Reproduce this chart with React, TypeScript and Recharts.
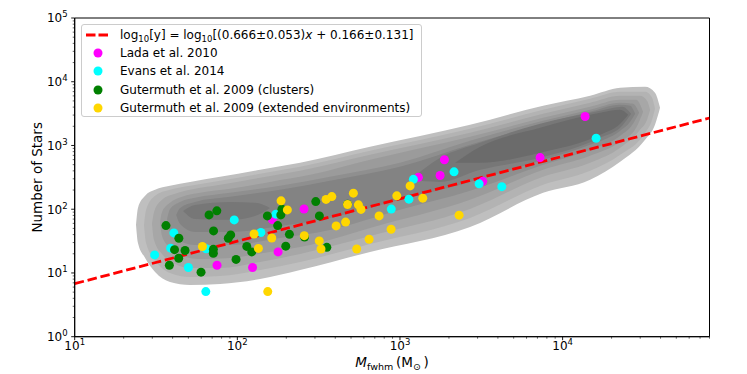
import React from "react";
import {
  ComposedChart,
  Area,
  Scatter,
  Line,
  XAxis,
  YAxis,
  Legend,
  ReferenceArea,
} from "recharts";

const FONT = "'DejaVu Sans', sans-serif";

// [M_fwhm (Msun), number of stars]
const lada2010 = [
  [75, 13.2], [124, 12.2], [164, 69], [178, 21.4], [257, 101], [1298, 316],
  [1765, 338], [1876, 596], [3230, 274], [7270, 645], [13750, 2850],
];
const evans2014 = [
  [31, 19.2], [40.7, 42.5], [38.9, 24.5], [50, 12.2], [64, 5.1], [64.3, 24],
  [95.7, 68], [139.5, 43.2], [172.5, 83.6], [884, 100.5], [1135, 144],
  [1209, 294], [2150, 386], [3066, 250], [4228, 226], [16070, 1296],
];
const gutermuthClusters = [
  [36.4, 55.4], [38.2, 13.2], [41.1, 23.2], [43.7, 35.1], [43.6, 17], [47.7, 22.5],
  [59.8, 10.3], [67, 81.5], [74.8, 94.2], [71.4, 45.7], [71.2, 23.5], [71.2, 20.4],
  [88, 35.1], [91, 39.5], [98.2, 16.3], [114.3, 26.1], [122.6, 21.4], [153, 78.6],
  [185, 81.5], [188, 100], [177, 55.4], [198.5, 26.3], [209, 40.4], [259, 36.5],
  [303.5, 131.8], [319.4, 78.6], [355, 25.2], [476, 120],
];
const gutermuthExtended = [
  [61, 26], [126.7, 40.8], [134.7, 24.3], [153.8, 5.1], [162.8, 35.4], [185.7, 135.2],
  [203, 97.6], [258, 38.5], [319, 31.8], [327, 23.8], [351, 142.7], [381, 158],
  [405, 54.7], [463, 62.8], [476, 118.8], [517, 178.6], [555, 117], [576, 99.4],
  [542, 23.8], [646, 33.8], [744, 78.6], [882, 48.6], [956, 162], [1154, 232],
  [1381, 149], [2309, 80.6],
];

// log10 N = 0.666 log10 M + 0.166, ends of the x range
const fitLine = [
  { x: 10, y: 6.8 },
  { x: 80000, y: 2700 },
];

// KDE contour bands: [log10 M, log10 N lower edge, log10 N upper edge]
const kde1 = [
  [1.377, 1.754, 1.754], [1.389, 1.471, 2.021], [1.433, 1.236, 2.21], [1.494, 1.016, 2.304],
  [1.586, 0.859, 2.367], [1.709, 0.812, 2.429], [1.894, 0.828, 2.508], [2.14, 0.906, 2.618],
  [2.386, 1.047, 2.728], [2.816, 1.33, 2.979], [3.431, 1.723, 3.324], [3.88, 2.257, 3.623],
  [4.169, 2.461, 3.78], [4.354, 2.743, 3.906], [4.507, 3.089, 3.921], [4.568, 3.324, 3.827],
  [4.599, 3.591, 3.591],
];
const kde2 = [
  [1.426, 1.754, 1.754], [1.439, 1.471, 1.99], [1.494, 1.204, 2.21], [1.586, 1.0, 2.304],
  [1.709, 0.938, 2.367], [1.894, 0.953, 2.445], [2.14, 1.047, 2.555], [2.386, 1.173, 2.665],
  [2.816, 1.456, 2.916], [3.431, 1.864, 3.262], [3.88, 2.382, 3.56], [4.169, 2.602, 3.733],
  [4.354, 2.853, 3.843], [4.507, 3.199, 3.843], [4.55, 3.403, 3.749], [4.568, 3.576, 3.576],
];
const kde3 = [
  [1.475, 1.77, 1.77], [1.488, 1.519, 1.958], [1.537, 1.299, 2.147], [1.617, 1.142, 2.241],
  [1.709, 1.079, 2.304], [1.894, 1.079, 2.382], [2.14, 1.173, 2.492], [2.386, 1.299, 2.602],
  [2.816, 1.581, 2.853], [3.431, 2.005, 3.199], [3.88, 2.508, 3.497], [4.169, 2.728, 3.67],
  [4.354, 2.963, 3.78], [4.476, 3.246, 3.78], [4.519, 3.403, 3.702], [4.538, 3.56, 3.56],
];
const kde4 = [
  [1.525, 1.801, 1.801], [1.537, 1.581, 1.958], [1.586, 1.393, 2.1], [1.66, 1.267, 2.194],
  [1.771, 1.22, 2.257], [1.956, 1.236, 2.32], [2.201, 1.33, 2.429], [2.447, 1.44, 2.539],
  [2.816, 1.707, 2.775], [3.431, 2.147, 3.136], [3.88, 2.618, 3.434], [4.169, 2.837, 3.607],
  [4.354, 3.057, 3.717], [4.452, 3.277, 3.717], [4.495, 3.529, 3.529],
];
const kde5 = [
  [1.568, 1.848, 1.848], [1.586, 1.644, 2.005], [1.648, 1.503, 2.115], [1.74, 1.44, 2.178],
  [1.956, 1.44, 2.257], [2.263, 1.55, 2.367], [2.57, 1.675, 2.508], [3.0, 1.99, 2.728],
  [3.431, 2.288, 3.073], [3.88, 2.696, 3.387], [4.169, 2.932, 3.56], [4.354, 3.152, 3.67],
  [4.433, 3.34, 3.654], [4.47, 3.513, 3.513],
];
const kde6 = [
  [1.624, 1.911, 1.911], [1.648, 1.77, 2.021], [1.74, 1.644, 2.115], [1.956, 1.644, 2.194],
  [2.263, 1.738, 2.304], [2.57, 1.864, 2.445], [3.0, 2.147, 2.665], [3.431, 2.429, 3.01],
  [3.88, 2.775, 3.34], [4.169, 3.01, 3.529], [4.354, 3.23, 3.639], [4.415, 3.371, 3.623],
  [4.446, 3.497, 3.497],
];
const kde7Left = [
  [1.666, 1.974, 1.974], [1.74, 1.848, 2.068], [1.956, 1.833, 2.115], [2.109, 1.895, 2.1],
  [2.201, 2.021, 2.021],
];
const kde7Right = [
  [3.062, 2.461, 2.461], [3.247, 2.429, 2.806], [3.493, 2.618, 3.042], [3.862, 2.806, 3.34],
  [4.231, 3.121, 3.544], [4.366, 3.309, 3.607], [4.421, 3.497, 3.497],
];
const kde8 = [
  [3.339, 2.728, 2.728], [3.493, 2.728, 2.979], [3.862, 2.885, 3.277], [4.231, 3.167, 3.513],
  [4.354, 3.34, 3.56], [4.403, 3.482, 3.482],
];

const kdeBands = [kde1, kde2, kde3, kde4, kde5, kde6, kde7Left, kde7Right, kde8];
const kdeShades = [
  "#bfbfbf", "#b3b3b3", "#a7a7a7", "#9b9b9b", "#8f8f8f", "#838383", "#777777", "#777777", "#6b6b6b",
];

const xDecades = [10, 100, 1000, 10000];
const yDecades = [1, 10, 100, 1000, 10000, 100000];
const xTicks = xDecades.flatMap((d) => [1, 2, 3, 4, 5, 6, 7, 8, 9].map((k) => k * d)).filter((v) => v <= 80000);
const yTicks = yDecades.flatMap((d) => [1, 2, 3, 4, 5, 6, 7, 8, 9].map((k) => k * d)).filter((v) => v <= 100000);

const toBand = (rows: number[][]) =>
  rows.map(([lx, lo, hi]) => ({ x: 10 ** lx, y: [10 ** lo, 10 ** hi] }));
const toPoints = (rows: number[][]) => rows.map(([x, y]) => ({ x, y }));

const series = [
  { name: "Lada et al. 2010", color: "#ff00ff", rows: lada2010 },
  { name: "Evans et al. 2014", color: "#00ffff", rows: evans2014 },
  { name: "Gutermuth et al. 2009 (clusters)", color: "#008000", rows: gutermuthClusters },
  { name: "Gutermuth et al. 2009 (extended environments)", color: "#ffd700", rows: gutermuthExtended },
];

function XTick(props: any) {
  const { x, y, payload } = props;
  const v = payload.value;
  const major = xDecades.includes(v);
  return (
    <g>
      <line x1={x} x2={x} y1={y} y2={y + (major ? 3.5 : 2)} stroke="#000" strokeWidth={major ? 0.9 : 0.6} />
      {major && (
        <text x={x} y={y + 12.8} textAnchor="middle" fontFamily={FONT} fontSize={12} fill="#000">
          10
          <tspan dy={-5} fontSize={8.5}>{Math.round(Math.log10(v))}</tspan>
        </text>
      )}
    </g>
  );
}

function YTick(props: any) {
  const { x, y, payload } = props;
  const v = payload.value;
  const major = yDecades.includes(v);
  return (
    <g>
      <line x1={x - (major ? 3.5 : 2)} x2={x} y1={y} y2={y} stroke="#000" strokeWidth={major ? 0.9 : 0.6} />
      {major && (
        <text x={x - 7} y={y + 4.4} textAnchor="end" fontFamily={FONT} fontSize={12} fill="#000">
          10
          <tspan dy={-5} fontSize={8.5}>{Math.round(Math.log10(v))}</tspan>
        </text>
      )}
    </g>
  );
}

function XTitle(props: any) {
  const { viewBox } = props;
  const cx = viewBox.x + viewBox.width / 2;
  return (
    <text x={cx} y={viewBox.y + 30.5} textAnchor="middle" fontFamily={FONT} fontSize={13.5} fill="#000">
      <tspan fontStyle="italic">M</tspan>
      <tspan fontSize={9.5} dy={3}>fwhm</tspan>
      <tspan dy={-3}>{"\u2009(M"}</tspan>
      <tspan fontSize={9.5} dy={3}>{"\u2299"}</tspan>
      <tspan dy={-3}>{"\u2009)"}</tspan>
    </text>
  );
}

function YTitle(props: any) {
  const { viewBox } = props;
  const x = viewBox.x + 37;
  const cy = viewBox.y + viewBox.height / 2;
  return (
    <text
      x={x}
      y={cy}
      transform={`rotate(-90 ${x} ${cy})`}
      textAnchor="middle"
      dominantBaseline="central"
      fontFamily={FONT}
      fontSize={13.5}
      fill="#000"
    >
      Number of Stars
    </text>
  );
}

function LegendBox() {
  const sub = { fontSize: 8.5, position: "relative" as const, top: 3 };
  return (
    <div
      style={{
        width: 341,
        height: 93,
        boxSizing: "border-box",
        border: "1px solid #cccccc",
        borderRadius: 3,
        background: "rgba(255,255,255,0.8)",
        fontFamily: FONT,
        fontSize: 12,
        color: "#000",
        paddingTop: 0.5,
      }}
    >
      <div style={{ display: "flex", alignItems: "center", height: 18.3, whiteSpace: "nowrap" }}>
        <svg width={38} height={18} style={{ flex: "none" }}>
          <line x1={4} x2={28} y1={9} y2={9} stroke="#ff0000" strokeWidth={2.8} strokeDasharray="9.5 3" />
        </svg>
        <span>
          log<span style={sub}>10</span>[y] = log<span style={sub}>10</span>[(0.666±0.053)<i>x</i> + 0.166±0.131]
        </span>
      </div>
      {series.map((s) => (
        <div key={s.name} style={{ display: "flex", alignItems: "center", height: 18.3, whiteSpace: "nowrap" }}>
          <svg width={38} height={18} style={{ flex: "none" }}>
            <circle cx={16} cy={9} r={4.5} fill={s.color} />
          </svg>
          <span>{s.name}</span>
        </div>
      ))}
    </div>
  );
}

export default function App() {
  return (
    <div style={{ position: "absolute", left: 0, top: 0, width: 747, height: 374, background: "#fff" }}>
      <ComposedChart width={747} height={374} margin={{ top: 18, right: 37.5, bottom: 0, left: 0 }}>
        <XAxis
          dataKey="x"
          type="number"
          scale="log"
          domain={[10, 80000]}
          allowDataOverflow
          ticks={xTicks}
          interval={0}
          tick={(p: any) => <XTick {...p} />}
          tickSize={0}
          tickMargin={0}
          tickLine={false}
          axisLine={{ stroke: "#000", strokeWidth: 1 }}
          height={37.3}
          label={<XTitle />}
        />
        <YAxis
          dataKey="y"
          type="number"
          scale="log"
          domain={[1, 100000]}
          allowDataOverflow
          ticks={yTicks}
          interval={0}
          tick={(p: any) => <YTick {...p} />}
          tickSize={0}
          tickMargin={0}
          tickLine={false}
          axisLine={{ stroke: "#000", strokeWidth: 1 }}
          width={74.7}
          label={<YTitle />}
        />
        {kdeBands.map((rows, i) => (
          <Area
            key={`kde${i}`}
            data={toBand(rows)}
            dataKey="y"
            type="monotone"
            stroke="none"
            fill={kdeShades[i]}
            fillOpacity={1}
            dot={false}
            activeDot={false}
            isAnimationActive={false}
            legendType="none"
          />
        ))}
        {series.map((s) => (
          <Scatter
            key={s.name}
            name={s.name}
            data={toPoints(s.rows)}
            dataKey="y"
            fill={s.color}
            isAnimationActive={false}
            shape={(p: any) => <circle cx={p.cx} cy={p.cy} r={4.5} fill={s.color} />}
          />
        ))}
        <Line
          data={fitLine}
          dataKey="y"
          type="linear"
          stroke="#ff0000"
          strokeWidth={2.8}
          strokeDasharray="9.5 3.8"
          dot={false}
          activeDot={false}
          isAnimationActive={false}
        />
        <ReferenceArea x1={10} x2={80000} y1={1} y2={100000} fill="none" stroke="#000" strokeWidth={1} />
        <Legend
          layout="vertical"
          align="center"
          verticalAlign="middle"
          content={() => <LegendBox />}
          wrapperStyle={{ position: "absolute", left: 81, top: 24, right: "auto", bottom: "auto", width: 341, height: 93 }}
        />
      </ComposedChart>
    </div>
  );
}
